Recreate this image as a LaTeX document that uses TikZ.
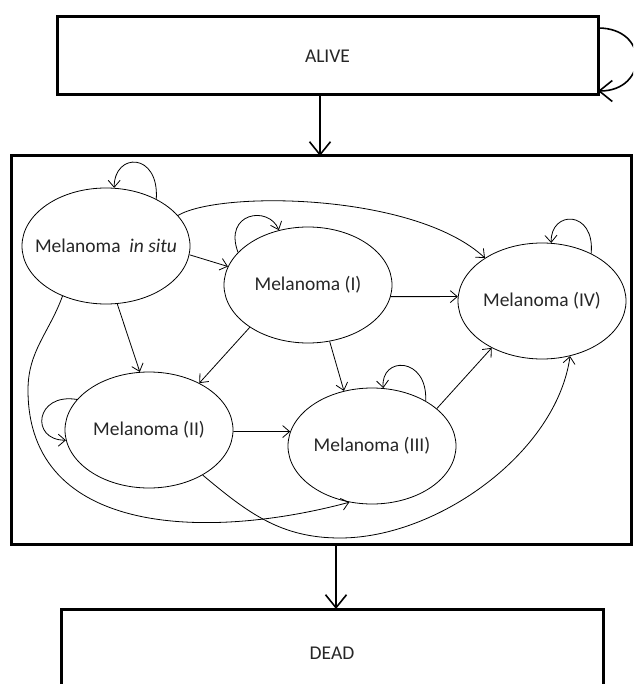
\documentclass[tikz,border=0pt]{standalone}
\usepackage{fontspec}
\setmainfont{Carlito}
\usetikzlibrary{arrows.meta,shapes.geometric}

\begin{document}
\begin{tikzpicture}[x=1pt,y=-1pt,
  state/.style={draw,ellipse,line width=0.8pt,minimum width=168pt,minimum height=116pt,inner xsep=-12pt,inner ysep=0pt,text=black!85,font=\fontsize{19.5}{22}\selectfont},
  box/.style={draw,rectangle,line width=3pt,inner sep=0pt,outer sep=0pt,text=black!85,font=\fontsize{19.5}{22}\selectfont},
  arr/.style={line width=0.8pt,-{Straight Barb[length=7pt,width=12pt]}},
  bigarr/.style={line width=1.6pt,-{Straight Barb[length=13pt,width=21pt]}}]
\useasboundingbox (0,0) rectangle (633,684);
\clip (0,0) rectangle (633,684);

% outer boxes
\node[box,minimum width=541pt,minimum height=78pt] (alive) at (327.5,56) {ALIVE};
\node[box,minimum width=620pt,minimum height=388pt] (model) at (321,350) {};
\node[box,minimum width=542pt,minimum height=88pt] (dead) at (332,653) {DEAD};

\draw[bigarr] ([yshift=28pt]alive.east) .. controls +(52,0) and +(50,0) .. ([yshift=-35pt]alive.east);
\draw[bigarr] ([xshift=-7.5pt]alive.south) -- ([xshift=-7.5pt]alive.south |- model.north);
\draw[bigarr] ([xshift=15pt]model.south) -- ([xshift=15pt]model.south |- dead.north);

% melanoma states
\node[state] (insitu) at (106,246) {Melanoma~~\textit{in situ}};
\node[state] (mel1) at (308,285) {Melanoma (I)};
\node[state] (mel2) at (149,430) {Melanoma (II)};
\node[state] (mel3) at (372,446) {Melanoma (III)};
\node[state] (mel4) at (542,301) {Melanoma (IV)};

% self loops
\draw[arr] (insitu.43) .. controls +(3,-47) and +(0,-36) .. (insitu.82);
\draw[arr] (mel1.155) .. controls +(-15,-40) and +(-10,-25) .. (mel1.118);
\draw[arr] (mel2.157) .. controls +(-42,-7) and +(-36,0) .. (mel2.187);
\draw[arr] (mel3.40) .. controls +(2,-45) and +(-3,-32) .. (mel3.79);
\draw[arr] (mel4.44) .. controls +(4,-44) and +(-1,-33) .. (mel4.81);

% transitions
\draw[arr] (insitu.-6) -- (mel1.167);
\draw[arr] (insitu.-79) -- (mel2.99);
\draw[arr] (mel1.-8) -- (mel4.177);
\draw[arr] (mel1.-144) -- (mel2.43);
\draw[arr] (mel1.-69) -- (mel3.117);
\draw[arr] (mel2.-1) -- (mel3.170);
\draw[arr] (mel3.30) -- (mel4.-137);
\draw[arr] (insitu.23) .. controls +(42,-25) and +(-70,-65) .. (mel4.143);

\coordinate (bendL) at (28,390);
\coordinate (bendR) at (340,538);
\draw[arr] (insitu.-131) to[out=-110,in=90] (bendL) to[out=-90,in=195,looseness=1.1] (mel3.-112);
\draw[arr] (mel2.-40) to[out=-40,in=180] (bendR) to[out=0,in=-98,looseness=0.85] (mel4.-63);
\end{tikzpicture}
\end{document}
